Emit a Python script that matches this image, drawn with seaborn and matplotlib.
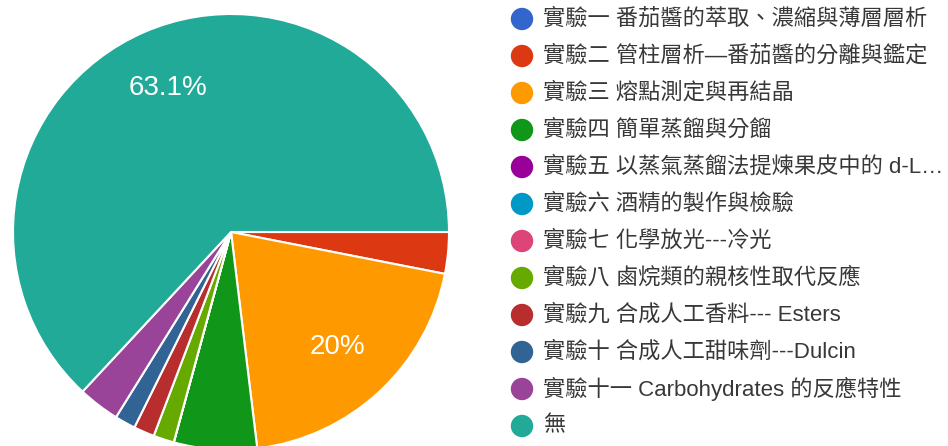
import matplotlib.pyplot as plt
import numpy as np
import seaborn as sns

# 資料
labels = [
    '實驗一 番茄醬的萃取、濃縮與薄層層析',
    '實驗二 管柱層析—番茄醬的分離與鑑定',
    '實驗三 熔點測定與再結晶',
    '實驗四 簡單蒸餾與分餾',
    '實驗五 以蒸氣蒸餾法提煉果皮中的 d-L…',
    '實驗六 酒精的製作與檢驗',
    '實驗七 化學放光---冷光',
    '實驗八 鹵烷類的親核性取代反應',
    '實驗九 合成人工香料--- Esters',
    '實驗十 合成人工甜味劑---Dulcin',
    '實驗十一 Carbohydrates 的反應特性',
    '無',
]
counts = [0, 2, 13, 4, 0, 0, 0, 1, 1, 1, 2, 41]
colors = ['#3366cc', '#dc3912', '#ff9900', '#109618', '#990099', '#0099c6',
          '#dd4477', '#66aa00', '#b82e2e', '#316395', '#994499', '#22aa99']

sns.set_theme(style='white')
plt.rcParams['font.family'] = ['Liberation Sans', 'Noto Sans CJK TC', 'DejaVu Sans']

W, H = 948, 446
fig = plt.figure(figsize=(W / 100, H / 100), dpi=100)
ax = fig.add_axes([0, 0, 1, 1])
palette = sns.color_palette(colors)


def pct_text(p):
    if p < 10:
        return ''
    s = f'{p:.1f}'.rstrip('0').rstrip('.')
    return s + '%'


ax.pie(counts, colors=palette, startangle=0, counterclock=False,
       center=(231, H - 232), radius=218, autopct=pct_text, pctdistance=0.72,
       wedgeprops=dict(edgecolor='white', linewidth=1.5),
       textprops=dict(color='white', fontsize=20))

# 圖例
row_y = [H - (19 + 37.0 * i) for i in range(len(labels))]
ax.scatter([522] * len(labels), row_y, s=260, c=palette, linewidths=0, zorder=3)
for y, lab in zip(row_y, labels):
    ax.text(543, y, lab, fontsize=16, color='#383838', va='center', ha='left')

ax.set_xlim(0, W)
ax.set_ylim(0, H)
ax.set_aspect('equal')
ax.axis('off')

fig.savefig('out.png', dpi=100)
